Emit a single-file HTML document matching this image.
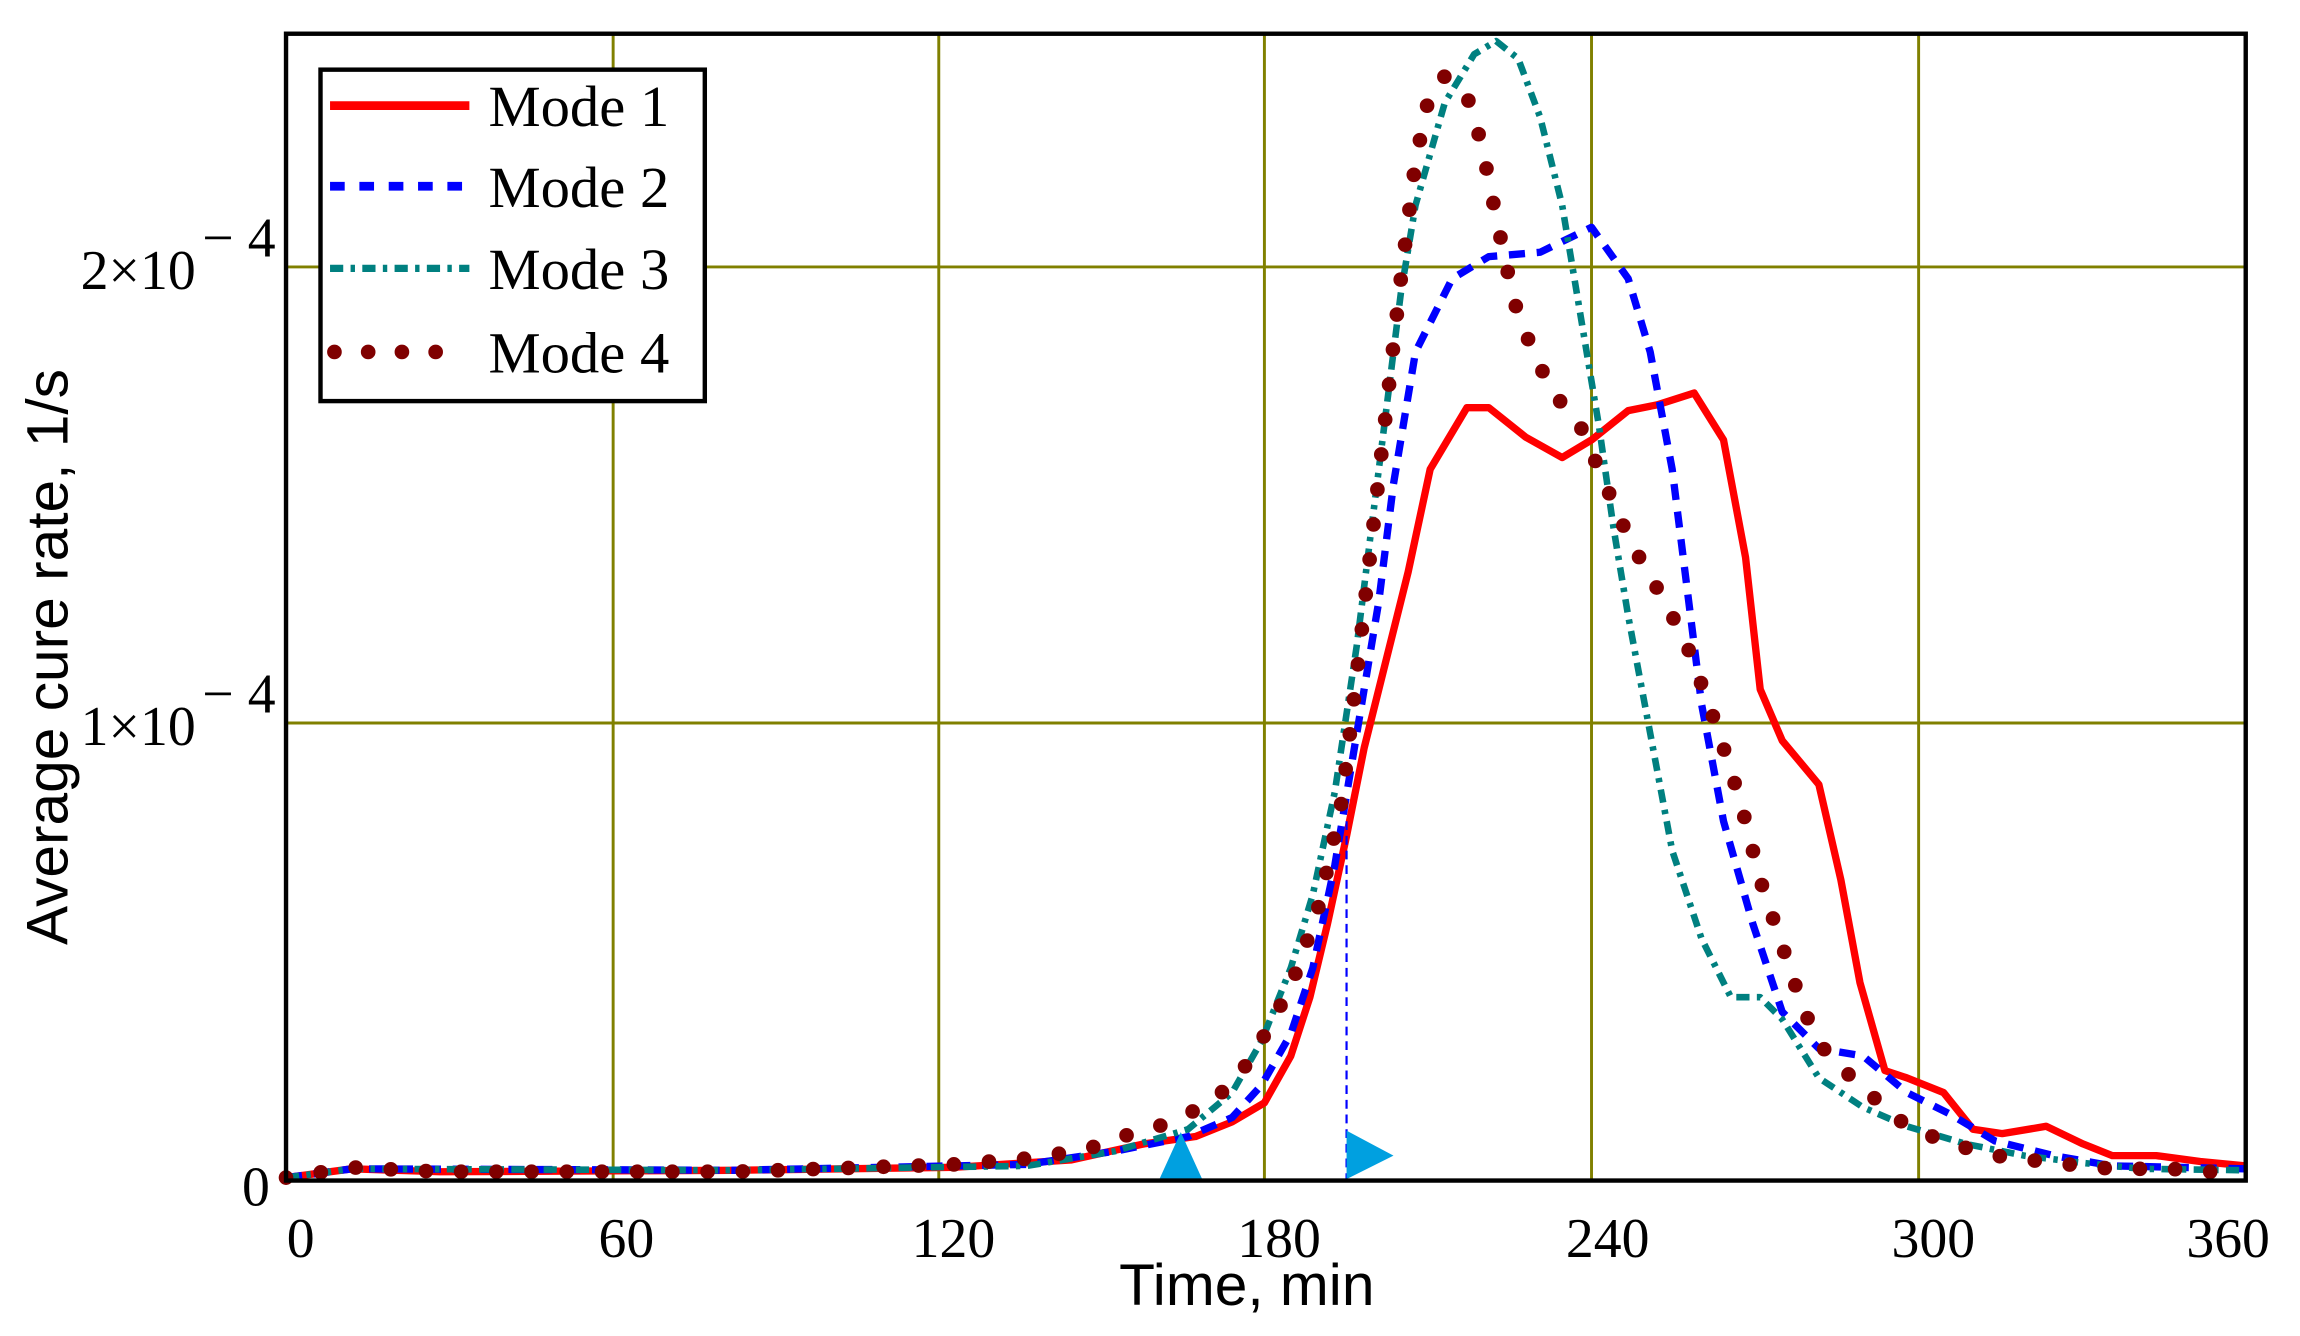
<!DOCTYPE html>
<html><head><meta charset="utf-8"><style>html,body{margin:0;padding:0;background:#fff}svg{display:block}</style></head>
<body>
<svg width="2300" height="1336" viewBox="0 0 1568 911" preserveAspectRatio="none" xmlns="http://www.w3.org/2000/svg">
<rect width="1568" height="911" fill="#fff"/>
<g stroke="#808000" stroke-width="2">
<line x1="418" y1="23" x2="418" y2="805"/><line x1="640" y1="23" x2="640" y2="805"/><line x1="862" y1="23" x2="862" y2="805"/><line x1="1085" y1="23" x2="1085" y2="805"/><line x1="1308" y1="23" x2="1308" y2="805"/>
<line x1="195" y1="493" x2="1531" y2="493"/><line x1="195" y1="182" x2="1531" y2="182"/>
</g>
<g fill="none" stroke-linejoin="round">
<polyline stroke="#ff0000" stroke-width="5" points="195,803 240,797 300,799 500,798 650,796 730,791 780,780 815,775 840,765 862,752 880,720 893,680 905,630 918,570 930,510 945,450 960,390 975,320 1000,278 1015,278 1040,298 1065,312 1085,300 1110,280 1130,276 1155,268 1175,300 1190,380 1200,470 1215,505 1240,535 1255,600 1268,670 1285,730 1300,735 1325,745 1345,770 1365,773 1395,768 1420,780 1440,788 1470,788 1500,792 1531,795"/>
<polyline stroke="#0000ff" stroke-width="5" stroke-dasharray="11 8" points="195,803 240,797 500,798 700,794 760,785 810,775 840,762 860,740 880,705 895,660 910,590 925,500 940,410 950,330 965,240 990,190 1015,175 1050,172 1085,155 1110,190 1125,240 1140,320 1150,400 1160,480 1175,560 1195,630 1215,690 1240,715 1270,720 1300,745 1330,760 1360,778 1400,788 1440,795 1531,797"/>
<polyline stroke="#008080" stroke-width="4.5" stroke-dasharray="9 5 3 5" points="195,803 240,797 500,798 700,795 760,785 810,770 840,745 860,710 880,660 895,610 910,540 925,440 940,320 955,200 965,140 985,70 1005,37 1020,28 1035,40 1050,80 1065,140 1075,200 1090,290 1100,360 1110,420 1125,500 1140,580 1160,640 1180,680 1200,680 1215,695 1240,735 1270,755 1300,768 1340,780 1380,788 1420,793 1460,797 1531,798"/>
<polyline stroke="#800000" stroke-width="10" stroke-linecap="round" stroke-dasharray="0 24" points="195,803 215,800 240,796 300,799 500,799 650,794 700,790 740,784 765,775 790,768 815,757 840,740 855,718 870,692 885,660 900,615 915,545 925,460 935,370 945,280 955,190 965,110 975,62 985,52 1000,65 1010,98 1020,148 1032,205 1045,240 1060,270 1075,285 1090,320 1105,355 1120,385 1135,410 1150,440 1165,480 1180,525 1190,560 1200,600 1215,645 1230,690 1245,718 1270,742 1300,768 1330,780 1360,788 1400,793 1440,797 1480,797 1520,800"/>
</g>
<line x1="918" y1="560" x2="918" y2="805" stroke="#0000ff" stroke-width="1.5" stroke-dasharray="6 4"/>
<polygon points="790,805 820,805 805,772" fill="#00a0e0"/>
<polygon points="918,771 918,804 950,788" fill="#00a0e0"/>
<rect x="195" y="23" width="1336" height="782" fill="none" stroke="#000" stroke-width="3"/>
<rect x="218.5" y="47.5" width="262" height="226" fill="#fff" stroke="#000" stroke-width="3"/>
<line x1="225" y1="72" x2="320" y2="72" stroke="#ff0000" stroke-width="6"/>
<line x1="225" y1="127" x2="320" y2="127" stroke="#0000ff" stroke-width="6" stroke-dasharray="10 10"/>
<line x1="225" y1="183" x2="320" y2="183" stroke="#008080" stroke-width="5" stroke-dasharray="9 5 3 5"/>
<line x1="228" y1="240" x2="320" y2="240" stroke="#800000" stroke-width="10" stroke-linecap="round" stroke-dasharray="0 23"/>
<g font-family="Liberation Serif, serif" font-size="40" fill="#000">
<text x="333" y="86">Mode 1</text><text x="333" y="141">Mode 2</text><text x="333" y="197">Mode 3</text><text x="333" y="254">Mode 4</text>
</g>
<g font-family="Liberation Serif, serif" font-size="38" fill="#000" text-anchor="middle">
<text x="205" y="857">0</text><text x="427" y="857">60</text><text x="650" y="857">120</text><text x="872" y="857">180</text><text x="1096" y="857">240</text><text x="1318" y="857">300</text><text x="1519" y="857">360</text>
</g>
<g font-family="Liberation Serif, serif" font-size="38" fill="#000">
<text x="165" y="822">0</text>
<text x="55" y="508">1×10</text><text x="138" y="486">− 4</text>
<text x="55" y="197">2×10</text><text x="138" y="175">− 4</text>
</g>
<text x="850" y="890" font-family="Liberation Sans, sans-serif" font-size="40" text-anchor="middle">Time, min</text>
<text transform="translate(46,448) rotate(-90)" font-family="Liberation Sans, sans-serif" font-size="40" text-anchor="middle">Average cure rate, 1/s</text>
</svg>
</body></html>
